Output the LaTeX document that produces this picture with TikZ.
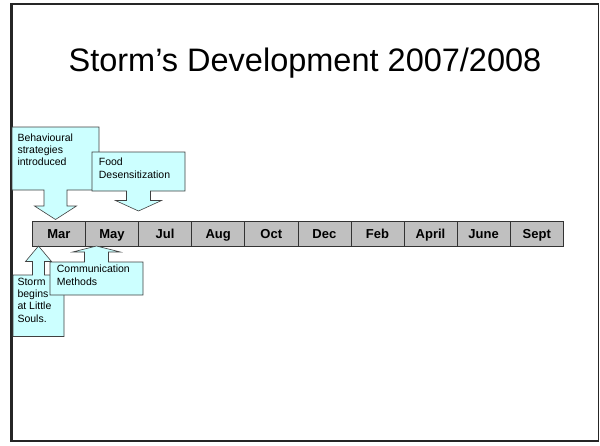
\documentclass[tikz,border=0pt]{standalone}
\usepackage{fontspec}
\setmainfont{Liberation Sans}
\usetikzlibrary{calc,positioning}
\definecolor{calloutcyan}{HTML}{CCFFFF}
\definecolor{monthgray}{HTML}{C0C0C0}

\begin{document}
\begin{tikzpicture}[
        %We work in pixels, y pointing down, and define some styles
        x=1pt, y=-1pt,
        slide frame/.style={draw=black!85, line width=1.3pt},
        month/.style={draw=black!80, fill=monthgray, line width=0.6pt,
            minimum width=53.1pt, minimum height=25pt, inner sep=0pt,
            text height=9.6pt, text depth=0pt,
            anchor=north west, font=\fontsize{13}{15}\selectfont\bfseries},
        callout/.style={draw=black!75, fill=calloutcyan, line width=0.6pt},
        callout text/.style={anchor=north west, align=left, inner sep=0pt,
            font=\fontsize{10.5}{12.4}\selectfont},
        every node/.style={color=black,}
     ]
    \useasboundingbox (0,0) rectangle (600,445);
    % The slide frame
    \draw[slide frame] (11,4) rectangle (598.5,441);
    \draw[black!85, line width=2.6pt] (11.5,4) -- (11.5,441);
    % Title
    \node[anchor=base, font=\fontsize{32.5}{39}\selectfont] (title) at (305,71)
        {Storm’s Development 2007/2008};
    % The time line
    \foreach \m [count=\i from 0] in {Mar,May,Jul,Aug,Oct,Dec,Feb,April,June,Sept}
        \node[month] (m\i) at (32+\i*53.1,221) {\m};
    % Callouts above the time line
    \draw[callout] (12,127) -- (99,127) -- (99,190) -- (67,190) -- (67,206)
        -- (76.5,206) -- (55.5,219.5) -- (34.5,206) -- (44,206) -- (44,190)
        -- (12,190) -- cycle;
    \node[callout text] (behav) at (17.3,133.3)
        {Behavioural\\strategies\\introduced};
    \draw[callout] (92,152) -- (185,152) -- (185,191) -- (150.5,191)
        -- (150.5,200.5) -- (161.5,200.5) -- (138.5,211) -- (115.5,200.5)
        -- (126.5,200.5) -- (126.5,191) -- (92,191) -- cycle;
    \node[callout text] (food) at (98.7,158) {Food\\Desensitization};
    % Callouts below the time line
    \draw[callout] (13,336.5) -- (13,275) -- (32.5,275) -- (32.5,261.5)
        -- (25.5,261.5) -- (38.5,246) -- (51.5,261.5) -- (44.5,261.5)
        -- (44.5,275) -- (64,275) -- (64,336.5) -- cycle;
    \node[callout text] (storm) at (17.3,277.6)
        {Storm\\begins\\at Little\\Souls.};
    \draw[callout] (50,295) -- (50,262) -- (84.5,262) -- (84.5,252)
        -- (72.5,252) -- (96.5,246) -- (120.5,252) -- (108.5,252)
        -- (108.5,262) -- (143,262) -- (143,295) -- cycle;
    \node[callout text] (comm) at (56.7,265) {Communication\\Methods};
\end{tikzpicture}
\end{document}
